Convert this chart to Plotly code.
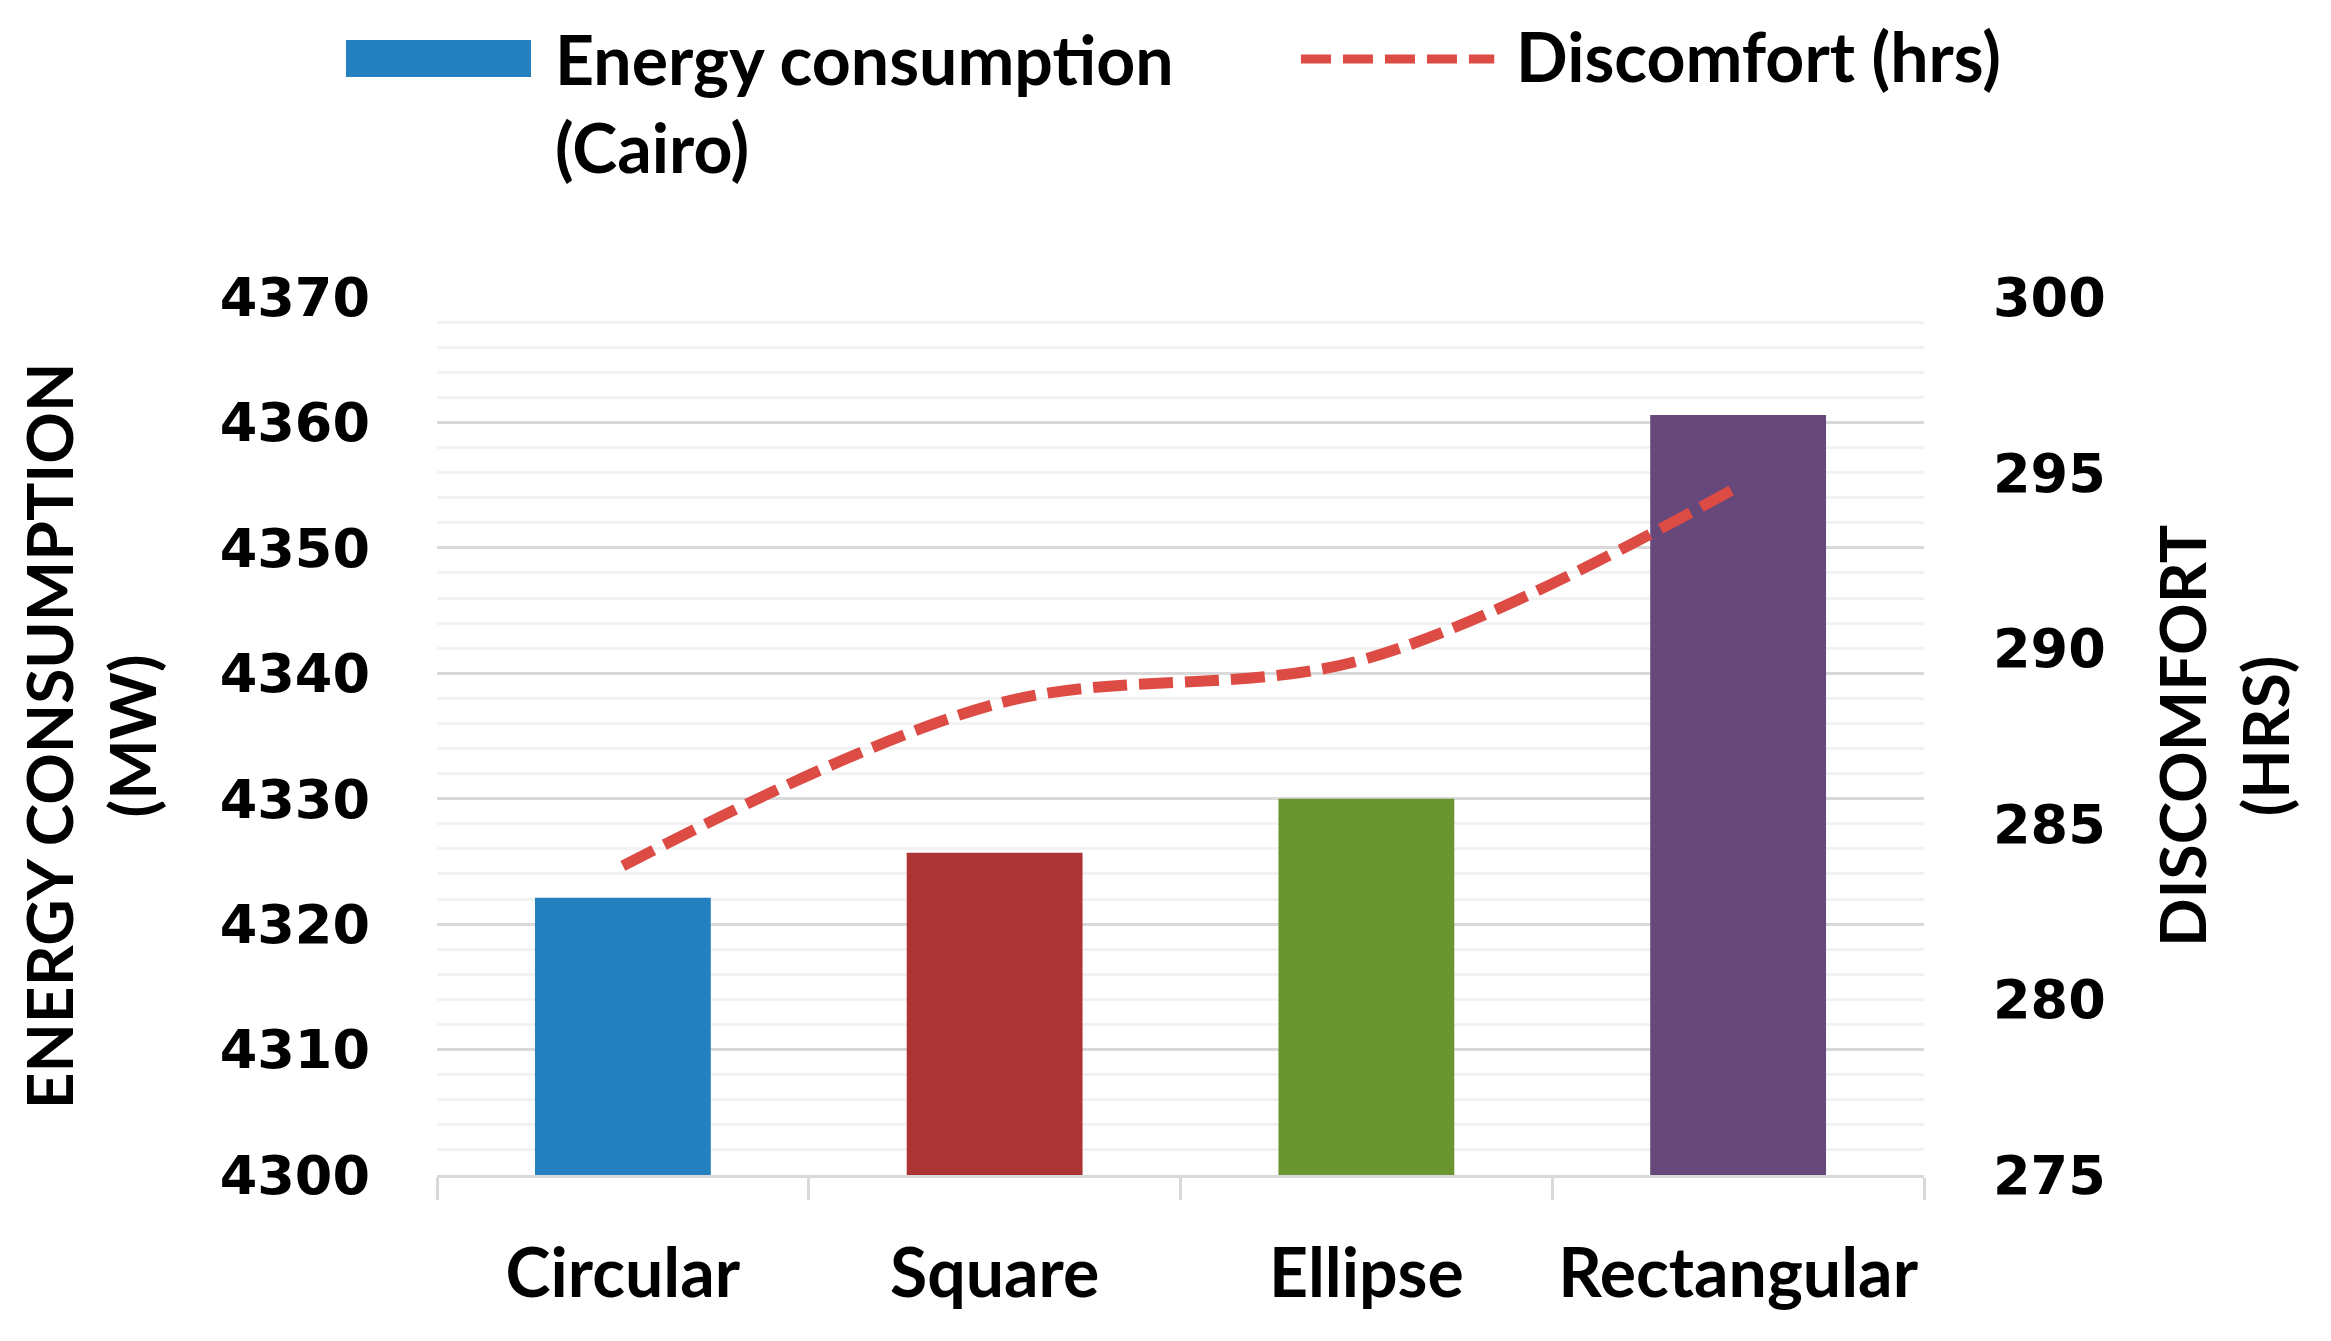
import plotly.graph_objects as go

# values
shapes_lst = ["Circular", "Square", "Ellipse", "Rectangular"]
energy_mw = [4322.1, 4325.7, 4330.0, 4360.6]
discomfort_hrs = [283.8, 288.4, 289.7, 294.6]
bar_colors = ["#2580BF", "#AD3434", "#6A9531", "#66487A"]

left_ticks = [4300, 4310, 4320, 4330, 4340, 4350, 4360, 4370]
right_ticks = [275, 280, 285, 290, 295, 300]

LINE_RED = "#DC4B44"
GRID = "#D9D9D9"
TXT_FONT = "Lato"
NUM_FONT = "DejaVu Sans"

fig = go.Figure()
fig.add_trace(go.Bar(x=shapes_lst, y=energy_mw, marker=dict(color=bar_colors, line=dict(width=0)),
                     name="Energy consumption (Cairo)", yaxis="y"))
fig.add_trace(go.Scatter(x=shapes_lst, y=discomfort_hrs, mode="lines", yaxis="y2",
                         line=dict(color=LINE_RED, width=11, dash="34px,12px", shape="spline", smoothing=1.0),
                         name="Discomfort (hrs)"))

layout = dict()
layout['width'] = 2331
layout['height'] = 1341
# page body adds an 8px offset, so margins are shifted to compensate
layout['margin'] = dict(l=429, r=415, t=289, b=174)
layout['paper_bgcolor'] = "white"
layout['plot_bgcolor'] = "white"
layout['showlegend'] = False
layout['bargap'] = 0.527
layout['xaxis'] = dict(type="category", tickson="boundaries", ticks="outside", ticklen=22,
                       tickwidth=3, tickcolor=GRID, showline=True, linecolor=GRID, linewidth=3,
                       showgrid=False, ticklabelstandoff=37,
                       tickfont=dict(family=TXT_FONT, size=68, color="black", weight="bold"))
layout['yaxis'] = dict(range=[4300, 4370], tickvals=left_ticks, showline=False, zeroline=False,
                       showgrid=True, gridcolor=GRID, gridwidth=3,
                       minor=dict(dtick=2, showgrid=True, gridcolor="#F2F2F2", gridwidth=3),
                       ticklabelstandoff=66,
                       tickfont=dict(family=NUM_FONT, size=54, color="black", weight="bold"),
                       title=dict(text="ENERGY CONSUMPTION<br>(MW)", standoff=42,
                                  font=dict(family=TXT_FONT, size=64, color="black", weight="bold")))
layout['yaxis2'] = dict(range=[275, 300], tickvals=right_ticks, overlaying="y", side="right",
                        showgrid=False, zeroline=False, showline=False, ticklabelstandoff=68,
                        tickfont=dict(family=NUM_FONT, size=54, color="black", weight="bold"),
                        title=dict(text="DISCOMFORT<br>(HRS)", standoff=56,
                                   font=dict(family=TXT_FONT, size=64, color="black", weight="bold")))

# legend drawn by hand to get the wide swatches of the original
layout['shapes'] = [
    dict(type="rect", xref="paper", yref="paper", x0=-0.0612, x1=0.0632, y0=1.2506, y1=1.2927,
         fillcolor=bar_colors[0], line=dict(width=0)),
    dict(type="line", xref="paper", yref="paper", x0=0.581, x1=0.711, y0=1.2711, y1=1.2711,
         line=dict(color=LINE_RED, width=9, dash="30px,12px")),
]
layout['annotations'] = [
    dict(xref="paper", yref="paper", x=0.078, y=1.222, xanchor="left", yanchor="middle",
         align="left", showarrow=False, text="Energy consumption<br>(Cairo)",
         font=dict(family=TXT_FONT, size=68, color="black", weight="bold")),
    dict(xref="paper", yref="paper", x=0.724, y=1.275, xanchor="left", yanchor="middle",
         align="left", showarrow=False, text="Discomfort (hrs)",
         font=dict(family=TXT_FONT, size=68, color="black", weight="bold")),
]

fig.update_layout(layout)
fig.write_html("out.html")
